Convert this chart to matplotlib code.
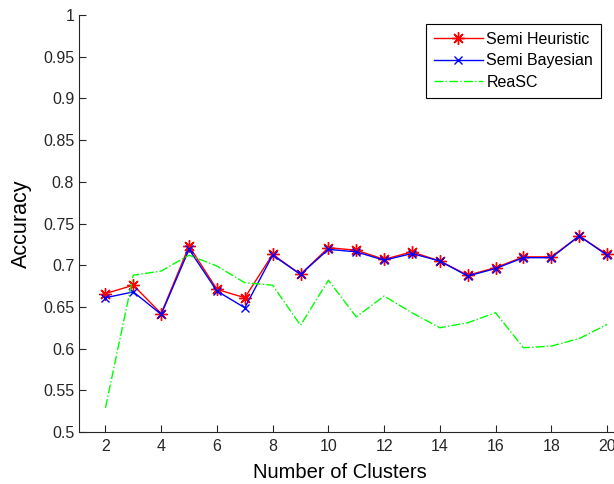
import matplotlib
matplotlib.use('Agg')
import matplotlib.pyplot as plt

plt.rcParams['font.family'] = ['Liberation Sans', 'DejaVu Sans']

clusters = [2, 3, 4, 5, 6, 7, 8, 9, 10, 11, 12, 13, 14, 15, 16, 17, 18, 19, 20]
semi_heuristic = [0.666, 0.676, 0.642, 0.723, 0.671, 0.661, 0.713, 0.689, 0.721,
                  0.718, 0.707, 0.716, 0.705, 0.688, 0.697, 0.710, 0.710, 0.735, 0.713]
semi_bayesian = [0.661, 0.668, 0.641, 0.719, 0.669, 0.649, 0.712, 0.689, 0.719,
                 0.716, 0.706, 0.714, 0.705, 0.687, 0.696, 0.709, 0.709, 0.735, 0.712]
reasc = [0.529, 0.688, 0.693, 0.712, 0.699, 0.679, 0.676, 0.628, 0.682,
         0.638, 0.663, 0.643, 0.625, 0.631, 0.643, 0.601, 0.603, 0.612, 0.629]

fig = plt.figure(figsize=(6.14, 4.84), dpi=100)
ax = fig.add_axes([79/614, 52/484, 535/614, 417/484])

# matlab-like asterisk for the red markers
ax.plot(clusters, semi_heuristic, color='red', marker=(8, 2, 0), markersize=9,
        markeredgewidth=1, linewidth=1, label='Semi Heuristic')
ax.plot(clusters, semi_bayesian, color='blue', marker='x', markersize=6,
        linewidth=1, label='Semi Bayesian')
ax.plot(clusters, reasc, color='#00ff00', linestyle='-.', linewidth=1, label='ReaSC')

ax.set_xlim(1.05, 20.25)
ax.set_ylim(0.5, 1.0)
ax.set_xticks(range(2, 21, 2))
ax.set_yticks([0.5, 0.55, 0.6, 0.65, 0.7, 0.75, 0.8, 0.85, 0.9, 0.95, 1])
ax.set_yticklabels(['0.5', '0.55', '0.6', '0.65', '0.7', '0.75', '0.8', '0.85', '0.9', '0.95', '1'])
ax.tick_params(direction='in', labelsize=11.5, length=5, width=0.8, colors='#262626')
ax.tick_params(axis='x', pad=5)
for s in ['top', 'right']:
    ax.spines[s].set_visible(False)
for s in ['left', 'bottom']:
    ax.spines[s].set_color('#262626')

ax.set_xlabel('Number of Clusters', fontsize=14.5, va='top')
ax.xaxis.set_label_coords((340 - 79) / 535, (432 - 463) / 417)
ax.set_ylabel('Accuracy', fontsize=15.5, labelpad=8)

leg = ax.legend(loc='upper right', bbox_to_anchor=((601 - 79) / 535, (432 - 24) / 417),
                bbox_transform=ax.transAxes, fontsize=11.5, fancybox=False,
                edgecolor='black', framealpha=1, handlelength=3.1,
                borderpad=0.5, labelspacing=0.4, handletextpad=0.2, borderaxespad=0)
leg.get_frame().set_linewidth(0.8)

fig.savefig('out.png', dpi=100)
